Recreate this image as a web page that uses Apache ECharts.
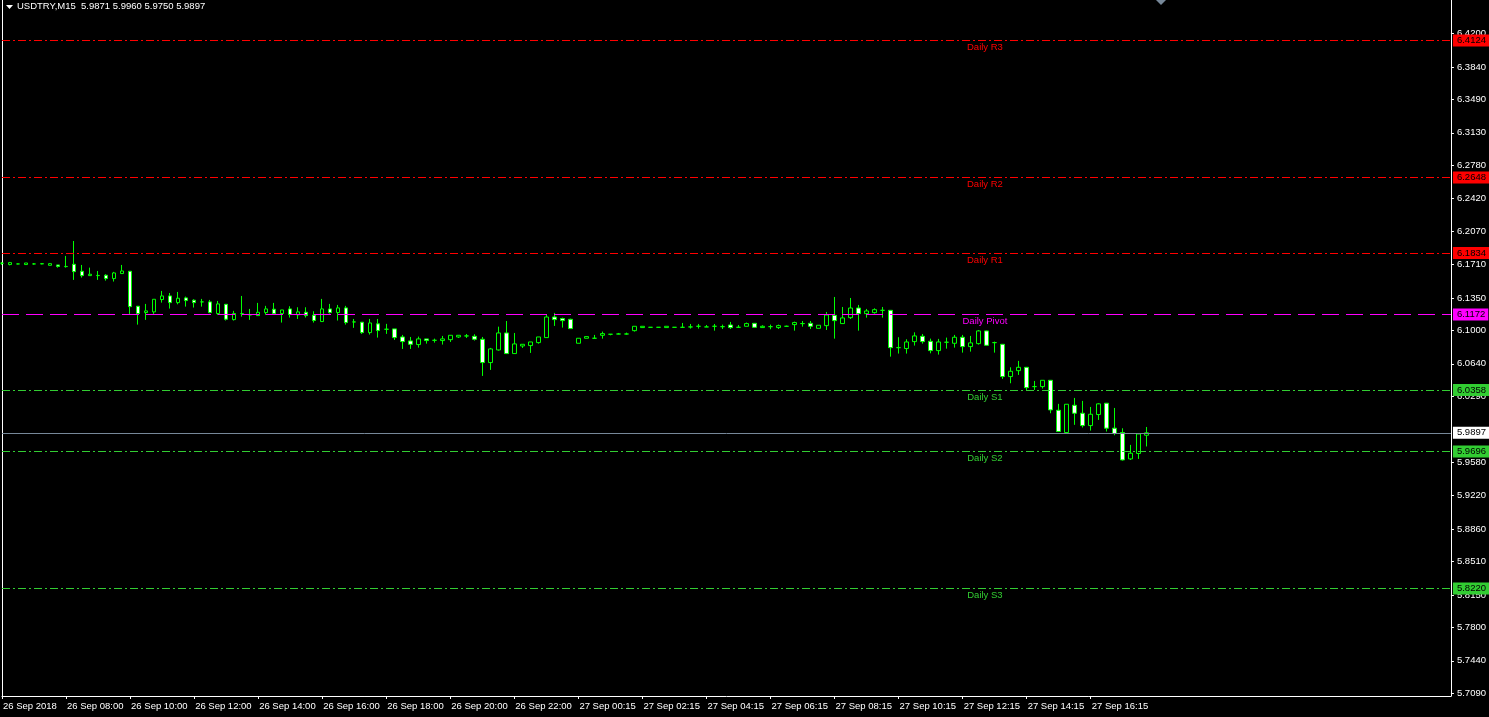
<!DOCTYPE html>
<html>
<head>
<meta charset="utf-8">
<title>USDTRY,M15</title>
<script src="https://cdn.jsdelivr.net/npm/echarts@6/dist/echarts.min.js"></script>
<style>
  html, body { margin: 0; padding: 0; background: #000; }
  #chart { width: 1489px; height: 717px; }
</style>
</head>
<body>
<div id="chart"></div>
<script>
// bars, 26 Sep 06:00 .. 27 Sep 18:00
var opens = [
  6.1724, 6.1710, 6.1717, 6.1710, 6.1717, 6.1717, 6.1702, 6.1706, 6.1688, 6.1713,
  6.1638, 6.1591, 6.1593, 6.1595, 6.1559, 6.1613, 6.1638, 6.1261, 6.1193, 6.1200,
  6.1333, 6.1372, 6.1300, 6.1351, 6.1326, 6.1308, 6.1308, 6.1182, 6.1282, 6.1117,
  6.1182, 6.1168, 6.1160, 6.1193, 6.1229, 6.1182, 6.1232, 6.1168, 6.1196, 6.1164,
  6.1096, 6.1232, 6.1193, 6.1243, 6.1092, 6.1089, 6.0977, 6.1071, 6.1013, 6.1017,
  6.0930, 6.0887, 6.0848, 6.0909, 6.0894, 6.0891, 6.0901, 6.0930, 6.0941, 6.0937,
  6.0905, 6.0654, 6.0790, 6.0973, 6.0751, 6.0833, 6.0837, 6.0869, 6.0923, 6.1145,
  6.1128, 6.1120, 6.0862, 6.0916, 6.0916, 6.0948, 6.0959, 6.0962, 6.0962, 6.0998,
  6.1031, 6.1034, 6.1034, 6.1031, 6.1034, 6.1034, 6.1038, 6.1045, 6.1038, 6.1045,
  6.1041, 6.1059, 6.1034, 6.1045, 6.1077, 6.1031, 6.1041, 6.1031, 6.1045, 6.1063,
  6.1074, 6.1077, 6.1023, 6.1052, 6.1163, 6.1074, 6.1138, 6.1242, 6.1181, 6.1192,
  6.1217, 6.1217, 6.0815, 6.0805, 6.0880, 6.0937, 6.0883, 6.0783, 6.0873, 6.0862,
  6.0927, 6.0826, 6.0858, 6.0995, 6.0869, 6.0851, 6.0503, 6.0567, 6.0603, 6.0395,
  6.0395, 6.0463, 6.0140, 5.9900, 6.0194, 6.0108, 5.9975, 6.0094, 6.0216, 5.9947,
  5.9900, 5.9616, 5.9674, 5.9871
];
var highs = [
  6.1738, 6.1738, 6.1720, 6.1727, 6.1727, 6.1727, 6.1727, 6.1706, 6.1803, 6.1964,
  6.1706, 6.1677, 6.1641, 6.1606, 6.1631, 6.1706, 6.1641, 6.1261, 6.1286, 6.1336,
  6.1426, 6.1404, 6.1415, 6.1365, 6.1336, 6.1340, 6.1329, 6.1318, 6.1282, 6.1211,
  6.1372, 6.1232, 6.1297, 6.1265, 6.1297, 6.1221, 6.1261, 6.1250, 6.1250, 6.1207,
  6.1340, 6.1286, 6.1275, 6.1265, 6.1124, 6.1089, 6.1124, 6.1124, 6.1071, 6.1017,
  6.0952, 6.0930, 6.0934, 6.0909, 6.0912, 6.0941, 6.0948, 6.0948, 6.0962, 6.0959,
  6.0930, 6.0812, 6.1041, 6.1102, 6.0973, 6.0851, 6.0876, 6.0930, 6.1167, 6.1189,
  6.1138, 6.1127, 6.0916, 6.0934, 6.0952, 6.0988, 6.0959, 6.0973, 6.0977, 6.1045,
  6.1045, 6.1034, 6.1034, 6.1045, 6.1034, 6.1081, 6.1070, 6.1070, 6.1059, 6.1070,
  6.1063, 6.1092, 6.1059, 6.1085, 6.1077, 6.1056, 6.1063, 6.1063, 6.1052, 6.1095,
  6.1102, 6.1102, 6.1056, 6.1199, 6.1361, 6.1253, 6.1350, 6.1275, 6.1232, 6.1239,
  6.1253, 6.1217, 6.0927, 6.0905, 6.0980, 6.0962, 6.0912, 6.0909, 6.0923, 6.0952,
  6.0952, 6.0941, 6.1005, 6.0998, 6.0880, 6.0851, 6.0603, 6.0672, 6.0603, 6.0456,
  6.0463, 6.0463, 6.0209, 6.0205, 6.0273, 6.0241, 6.0176, 6.0216, 6.0216, 6.0165,
  5.9946, 5.9767, 5.9885, 5.9960
];
var lows = [
  6.1706, 6.1702, 6.1713, 6.1710, 6.1710, 6.1713, 6.1702, 6.1677, 6.1677, 6.1545,
  6.1570, 6.1591, 6.1545, 6.1537, 6.1527, 6.1613, 6.1178, 6.1063, 6.1114, 6.1178,
  6.1300, 6.1236, 6.1282, 6.1257, 6.1247, 6.1257, 6.1186, 6.1168, 6.1107, 6.1107,
  6.1149, 6.1114, 6.1157, 6.1168, 6.1175, 6.1085, 6.1139, 6.1124, 6.1139, 6.1085,
  6.1096, 6.1182, 6.1107, 6.1063, 6.1028, 6.0963, 6.0956, 6.0923, 6.0963, 6.0898,
  6.0801, 6.0801, 6.0815, 6.0858, 6.0869, 6.0848, 6.0876, 6.0919, 6.0919, 6.0891,
  6.0510, 6.0575, 6.0783, 6.0751, 6.0751, 6.0812, 6.0758, 6.0858, 6.0923, 6.1049,
  6.1031, 6.1020, 6.0862, 6.0916, 6.0916, 6.0912, 6.0948, 6.0959, 6.0955, 6.0988,
  6.1031, 6.1034, 6.1034, 6.1031, 6.1034, 6.1034, 6.1020, 6.1020, 6.1038, 6.0998,
  6.1016, 6.1016, 6.1034, 6.1045, 6.1034, 6.1031, 6.1013, 6.1016, 6.1038, 6.0998,
  6.1041, 6.1016, 6.1023, 6.1005, 6.0912, 6.1074, 6.1124, 6.0998, 6.1138, 6.1181,
  6.1138, 6.0718, 6.0751, 6.0751, 6.0837, 6.0858, 6.0754, 6.0740, 6.0804, 6.0815,
  6.0761, 6.0772, 6.0848, 6.0840, 6.0761, 6.0478, 6.0431, 6.0521, 6.0359, 6.0359,
  6.0374, 6.0108, 5.9911, 5.9889, 5.9983, 5.9954, 5.9921, 6.0036, 5.9911, 5.9871,
  5.9598, 5.9605, 5.9616, 5.9750
];
var closes = [
  6.1724, 6.1731, 6.1717, 6.1727, 6.1717, 6.1720, 6.1720, 6.1690, 6.1690, 6.1634,
  6.1591, 6.1606, 6.1591, 6.1559, 6.1620, 6.1641, 6.1257, 6.1182, 6.1211, 6.1336,
  6.1372, 6.1300, 6.1347, 6.1322, 6.1300, 6.1308, 6.1193, 6.1286, 6.1121, 6.1182,
  6.1182, 6.1168, 6.1196, 6.1232, 6.1182, 6.1221, 6.1171, 6.1200, 6.1160, 6.1107,
  6.1232, 6.1193, 6.1243, 6.1085, 6.1092, 6.0977, 6.1081, 6.0999, 6.1013, 6.0923,
  6.0880, 6.0851, 6.0909, 6.0891, 6.0894, 6.0909, 6.0948, 6.0948, 6.0941, 6.0905,
  6.0654, 6.0801, 6.0973, 6.0751, 6.0855, 6.0851, 6.0876, 6.0930, 6.1145, 6.1117,
  6.1106, 6.1020, 6.0916, 6.0934, 6.0916, 6.0966, 6.0959, 6.0962, 6.0962, 6.1045,
  6.1045, 6.1034, 6.1034, 6.1045, 6.1034, 6.1034, 6.1038, 6.1045, 6.1038, 6.1045,
  6.1041, 6.1031, 6.1034, 6.1074, 6.1034, 6.1045, 6.1041, 6.1052, 6.1045, 6.1085,
  6.1074, 6.1045, 6.1056, 6.1167, 6.1106, 6.1135, 6.1242, 6.1181, 6.1210, 6.1224,
  6.1217, 6.0815, 6.0815, 6.0876, 6.0941, 6.0880, 6.0783, 6.0876, 6.0873, 6.0927,
  6.0826, 6.0866, 6.0995, 6.0840, 6.0869, 6.0503, 6.0560, 6.0603, 6.0384, 6.0395,
  6.0463, 6.0144, 5.9911, 6.0205, 6.0108, 5.9975, 6.0097, 6.0209, 5.9947, 5.9889,
  5.9605, 5.9677, 5.9885, 5.9897
];

var xTickLabels = [
  '26 Sep 2018', '26 Sep 08:00', '26 Sep 10:00', '26 Sep 12:00', '26 Sep 14:00',
  '26 Sep 16:00', '26 Sep 18:00', '26 Sep 20:00', '26 Sep 22:00', '27 Sep 00:15',
  '27 Sep 02:15', '27 Sep 04:15', '27 Sep 06:15', '27 Sep 08:15', '27 Sep 10:15',
  '27 Sep 12:15', '27 Sep 14:15', '27 Sep 16:15'
];
var yTickValues = [
  5.7090, 5.7440, 5.7800, 5.8150, 5.8510, 5.8860, 5.9220, 5.9580, 6.0290, 6.0640,
  6.1000, 6.1350, 6.1710, 6.2070, 6.2420, 6.2780, 6.3130, 6.3490, 6.3840, 6.4200
];

var levelNames = ['Daily R3', 'Daily R2', 'Daily R1', 'Daily Pivot', 'Daily S1', 'Daily S2', 'Daily S3'];
var levelValues = [6.4124, 6.2648, 6.1834, 6.1172, 6.0358, 5.9696, 5.8220];
var levelColors = ['#ff0000', '#ff0000', '#ff0000', '#ff00ff', '#32cd32', '#32cd32', '#32cd32'];
var lastPrice = 5.9897;
var title = 'USDTRY,M15  5.9871 5.9960 5.9750 5.9897';

var FONT = '"Liberation Sans", Arial, sans-serif';
var SLOTS = 182; // bars + empty shift space on the right

// category times: 26 Sep from 06:00, then 27 Sep from 00:15 (00:00 bar missing)
var categories = [];
for (var i = 0; i < SLOTS; i++) {
  if (i >= opens.length) { categories.push(''); continue; }
  var day = i < 72 ? 26 : 27;
  var m = i < 72 ? 360 + 15 * i : 15 + 15 * (i - 72);
  var hh = Math.floor(m / 60), mm = m % 60;
  categories.push(day + ' Sep ' + (hh < 10 ? '0' : '') + hh + ':' + (mm < 10 ? '0' : '') + mm);
}

var candles = opens.map(function (o, i) {
  return [o, closes[i], lows[i], highs[i]];
});

var dashDot = [8, 3, 2, 3];
var marks = [];
levelValues.forEach(function (v, i) {
  var isPivot = levelNames[i] === 'Daily Pivot';
  marks.push({
    yAxis: v,
    lineStyle: { color: levelColors[i], width: 1, type: isPivot ? [17, 7] : dashDot },
    label: {
      show: true,
      position: 'end',
      distance: 2,
      formatter: v.toFixed(4),
      backgroundColor: levelColors[i],
      color: '#000',
      padding: [1, 3, 0, 4],
      lineHeight: 11,
      fontSize: 9.5,
      fontFamily: FONT
    }
  });
  // name text under the line (line itself drawn transparent)
  marks.push({
    yAxis: v,
    lineStyle: { color: 'rgba(0,0,0,0)', width: 1, opacity: 1 },
    label: {
      show: true,
      position: 'insideEndBottom',
      distance: [466, 2],
      align: 'center',
      formatter: levelNames[i],
      color: levelColors[i],
      opacity: 1,
      fontSize: 9.5,
      fontFamily: FONT
    }
  });
});
marks.push({
  yAxis: lastPrice,
  lineStyle: { color: '#778899', width: 1, type: 'solid' },
  label: {
    show: true,
    position: 'end',
    distance: 2,
    formatter: lastPrice.toFixed(4),
    backgroundColor: '#ffffff',
    color: '#000',
    padding: [1, 3, 0, 4],
    lineHeight: 11,
    fontSize: 9.5,
    fontFamily: FONT
  }
});

var chart = echarts.init(document.getElementById('chart'));
var option = {
  backgroundColor: '#000',
  animation: false,
  title: {
    text: title,
    left: 17,
    top: 1,
    padding: 0,
    textStyle: { color: '#fff', fontSize: 9.5, fontWeight: 'normal', fontFamily: FONT }
  },
  graphic: [
    { type: 'polygon', shape: { points: [[6, 5], [13, 5], [9.5, 9]] }, style: { fill: '#fff' } },
    { type: 'polygon', shape: { points: [[1156, 0], [1166, 0], [1161, 5]] }, style: { fill: '#778899' } }
  ],
  grid: { left: 2, right: 36, top: 0, bottom: 21 },
  xAxis: {
    type: 'category',
    data: categories,
    boundaryGap: false,
    axisLine: { lineStyle: { color: '#fff', width: 1 } },
    axisTick: {
      length: 3,
      lineStyle: { color: '#fff' },
      interval: function (idx) { return idx % 8 === 0 && idx / 8 < xTickLabels.length; }
    },
    axisLabel: {
      interval: function (idx) { return idx % 8 === 0 && idx / 8 < xTickLabels.length; },
      formatter: function (val, idx) { return xTickLabels[idx / 8] || ''; },
      align: 'left',
      margin: 5,
      padding: [0, 0, 0, 1],
      color: '#fff',
      fontSize: 9.5,
      fontFamily: FONT
    },
    splitLine: { show: false }
  },
  yAxis: [{
    type: 'value',
    position: 'right',
    min: 5.7061,
    max: 6.4561,
    scale: true,
    axisLine: { show: true, lineStyle: { color: '#fff', width: 1 } },
    axisTick: { show: true, length: 3, lineStyle: { color: '#fff' }, customValues: yTickValues },
    axisLabel: {
      customValues: yTickValues,
      formatter: function (v) { return v.toFixed(4); },
      margin: 6,
      color: '#fff',
      fontSize: 9.5,
      fontFamily: FONT
    },
    splitLine: { show: false }
  }, {
    type: 'value',
    position: 'left',
    min: 5.7061,
    max: 6.4561,
    axisLine: { show: true, lineStyle: { color: '#fff', width: 1 } },
    axisTick: { show: false },
    axisLabel: { show: false },
    splitLine: { show: false }
  }],
  series: [{
    type: 'candlestick',
    name: 'USDTRY',
    data: candles,
    barWidth: 4,
    itemStyle: {
      color: '#000000',
      color0: '#ffffff',
      borderColor: '#00ff00',
      borderColor0: '#00ff00',
      borderColorDoji: '#00ff00',
      borderWidth: 1
    },
    markLine: {
      silent: true,
      symbol: 'none',
      precision: 4,
      animation: false,
      data: marks
    }
  }]
};
chart.setOption(option);
window.addEventListener('resize', function () {
  chart.resize();
});
</script>
</body>
</html>
